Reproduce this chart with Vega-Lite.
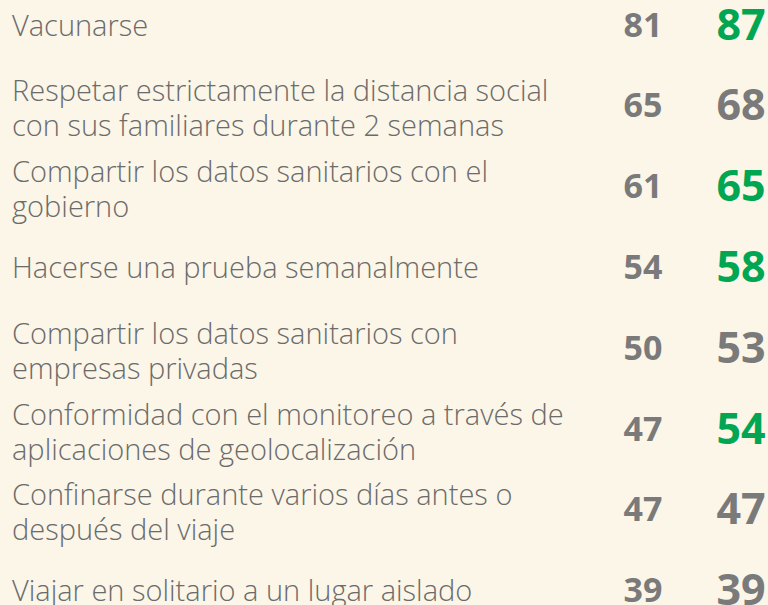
{
  "$schema": "https://vega.github.io/schema/vega-lite/v6.json",
  "width": 768,
  "height": 605,
  "autosize": {"type": "none"},
  "padding": 0,
  "background": "#fbf6e8",
  "config": {"view": {"stroke": null}},
  "data": {
    "values": [
      {"idx": 0, "item": "Vacunarse", "v1": 81, "v2": 87, "up": "si"},
      {"idx": 1, "item": "Respetar estrictamente la distancia social\ncon sus familiares durante 2 semanas", "v1": 65, "v2": 68, "up": "no"},
      {"idx": 2, "item": "Compartir los datos sanitarios con el\ngobierno", "v1": 61, "v2": 65, "up": "si"},
      {"idx": 3, "item": "Hacerse una prueba semanalmente", "v1": 54, "v2": 58, "up": "si"},
      {"idx": 4, "item": "Compartir los datos sanitarios con\nempresas privadas", "v1": 50, "v2": 53, "up": "no"},
      {"idx": 5, "item": "Conformidad con el monitoreo a través de\naplicaciones de geolocalización", "v1": 47, "v2": 54, "up": "si"},
      {"idx": 6, "item": "Confinarse durante varios días antes o\ndespués del viaje", "v1": 47, "v2": 47, "up": "no"},
      {"idx": 7, "item": "Viajar en solitario a un lugar aislado", "v1": 39, "v2": 39, "up": "no"}
    ]
  },
  "encoding": {
    "y": {"field": "idx", "type": "quantitative", "scale": {"domain": [-0.33, 7.16], "reverse": true}, "axis": null}
  },
  "layer": [
    {
      "transform": [{"filter": "indexof(datum.item, '\\n') < 0"}],
      "mark": {"type": "text", "align": "left", "baseline": "middle", "font": "Open Sans", "fontWeight": 300, "fontSize": 29, "letterSpacing": 0.6, "color": "#6b6b6b"},
      "encoding": {
        "x": {"datum": 0, "type": "quantitative", "scale": {"domain": [0, 1, 2], "range": [12, 643, 741]}, "axis": null},
        "text": {"field": "item"}
      }
    },
    {
      "transform": [{"filter": "indexof(datum.item, '\\n') >= 0"}],
      "mark": {"type": "text", "align": "left", "baseline": "middle", "dy": -15, "font": "Open Sans", "fontWeight": 300, "fontSize": 29, "letterSpacing": 0.6, "color": "#6b6b6b", "lineBreak": "\n", "lineHeight": 35},
      "encoding": {
        "x": {"datum": 0, "type": "quantitative"},
        "text": {"field": "item"}
      }
    },
    {
      "mark": {"type": "text", "align": "center", "baseline": "middle", "font": "Open Sans", "fontWeight": "bold", "fontSize": 34, "color": "#7a7a7a"},
      "encoding": {
        "x": {"datum": 1, "type": "quantitative"},
        "text": {"field": "v1"}
      }
    },
    {
      "mark": {"type": "text", "align": "center", "baseline": "middle", "font": "Open Sans", "fontWeight": "bold", "fontSize": 43},
      "encoding": {
        "x": {"datum": 2, "type": "quantitative"},
        "text": {"field": "v2"},
        "color": {"field": "up", "type": "nominal", "scale": {"domain": ["si", "no"], "range": ["#00a651", "#7a7a7a"]}, "legend": null}
      }
    }
  ]
}
